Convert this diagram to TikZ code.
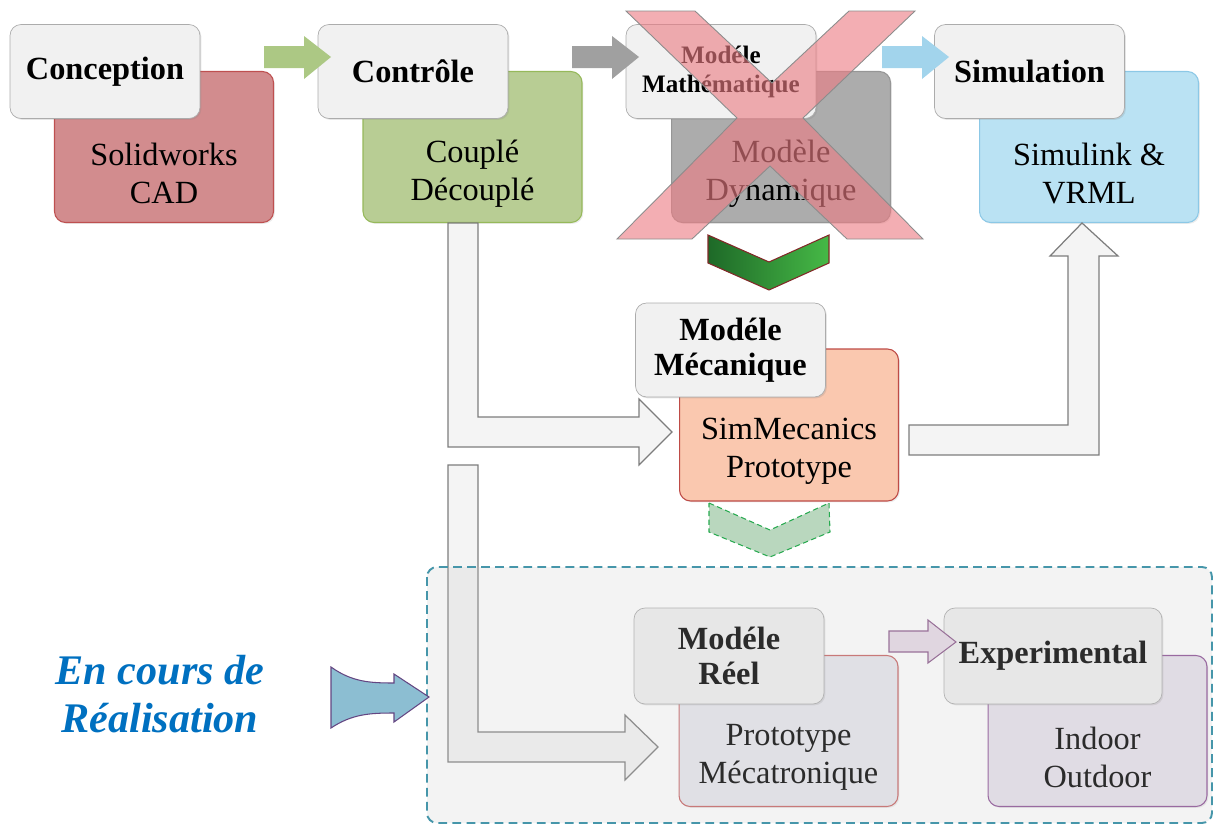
\documentclass[tikz,border=0pt]{standalone}
\usepackage{fontspec}
\setmainfont{Liberation Serif}
\usetikzlibrary{shadows}

\definecolor{hdrfill}{RGB}{241,241,241}
\definecolor{hdrline}{RGB}{172,172,172}
\definecolor{cadfill}{RGB}{210,140,142}
\definecolor{cadline}{RGB}{190,80,80}
\definecolor{ctrlfill}{RGB}{184,205,148}
\definecolor{ctrlline}{RGB}{150,185,90}
\definecolor{dynfill}{RGB}{172,172,172}
\definecolor{dynline}{RGB}{150,150,150}
\definecolor{simfill}{RGB}{186,226,243}
\definecolor{simline}{RGB}{140,200,230}
\definecolor{mecafill}{RGB}{250,200,175}
\definecolor{mecaline}{RGB}{190,75,70}
\definecolor{reelfill}{RGB}{232,232,238}
\definecolor{reelline}{RGB}{200,100,100}
\definecolor{expfill}{RGB}{232,226,236}
\definecolor{expline}{RGB}{140,80,150}
\definecolor{crossfill}{RGB}{236,125,132}
\definecolor{crossline}{RGB}{140,140,140}
\definecolor{bigline}{RGB}{125,125,125}
\definecolor{bigfill}{RGB}{244,244,244}
\definecolor{regionline}{RGB}{70,150,170}
\definecolor{regionfill}{RGB}{200,200,200}
\definecolor{encours}{RGB}{0,112,192}
\definecolor{swooshfill}{RGB}{140,190,210}
\definecolor{swooshline}{RGB}{100,70,130}
\definecolor{purpfill}{RGB}{232,218,232}
\definecolor{purpline}{RGB}{140,90,140}
\definecolor{chevdark}{RGB}{30,105,40}
\definecolor{chevlight}{RGB}{70,185,70}
\definecolor{chevline}{RGB}{130,40,40}
\definecolor{dchevfill}{RGB}{185,215,190}
\definecolor{dchevline}{RGB}{40,170,80}
\definecolor{greenarr}{RGB}{172,200,132}
\definecolor{grayarr}{RGB}{160,160,160}
\definecolor{bluearr}{RGB}{162,212,236}

\begin{document}
\begin{tikzpicture}[
  x=0.02cm, y=-0.02cm,
  hdr/.style={rectangle, draw=hdrline, fill=hdrfill, rounded corners=2.2mm, minimum width=3.8cm, minimum height=1.88cm, align=center, font=\bfseries\fontsize{18.4}{20}\selectfont, drop shadow={shadow xshift=0.8pt, shadow yshift=-0.8pt, opacity=0.2}},
  body/.style={rectangle, rounded corners=2.2mm, minimum width=4.38cm, minimum height=3.02cm, line width=0.6pt, drop shadow={shadow xshift=0.8pt, shadow yshift=-0.8pt, opacity=0.15}},
  btext/.style={align=center, font=\fontsize{18.4}{21.5}\selectfont},
  flatarrow/.style={line width=0.3pt},
  bigarrow/.style={draw=bigline, fill=bigfill, line width=0.7pt},
  chevron/.style={line width=0.6pt}
]
  \useasboundingbox (0,0) rectangle (1214,825);

  % top row
  \node[body, draw=cadline, fill=cadfill] (bCAD) at (164,147) {};
  \node[hdr] (hConc) at (105,71.5) {Conception};
  \node[btext] (tCAD) at ([yshift=-5.3mm]bCAD.center) {Solidworks\\CAD};

  \node[body, draw=ctrlline, fill=ctrlfill] (bCtrl) at (472.5,147) {};
  \node[hdr] (hCtrl) at (413,71.5) {Contrôle};
  \node[btext] (tCtrl) at ([yshift=-5.3mm]bCtrl.center) {Couplé\\Découplé};

  \node[body, draw=dynline, fill=dynfill] (bDyn) at (781,147) {};
  \node[hdr, font=\bfseries\fontsize{14.3}{16.5}\selectfont] (hMath) at (721,71.5) {Modéle\\Mathématique};
  \node[btext] (tDyn) at ([yshift=-5.3mm]bDyn.center) {Modèle\\Dynamique};

  \node[body, draw=simline, fill=simfill] (bSim) at (1089,147) {};
  \node[hdr] (hSim) at (1029.5,71.5) {Simulation};
  \node[btext] (tSim) at ([yshift=-5.3mm]bSim.center) {Simulink \&\\VRML};

  \fill[greenarr] (264,46) -- (304,46) -- (304,36) -- (331,57) -- (304,79) -- (304,68) -- (264,68) -- cycle;
  \fill[grayarr] (572,46) -- (612,46) -- (612,36) -- (639,57) -- (612,79) -- (612,68) -- (572,68) -- cycle;
  \fill[bluearr] (882,46) -- (922,46) -- (922,36) -- (949,57) -- (922,79) -- (922,68) -- (882,68) -- cycle;

  % crossed out
  \draw[draw=crossline, fill=crossfill, fill opacity=0.62, line width=0.5pt]
    (626,11) -- (695,11) -- (772,83) -- (849,11) -- (915,11) -- (803,118) -- (923,239)
    -- (847,239) -- (770,166) -- (692,239) -- (617,239) -- (737,118) -- cycle;

  \draw[chevron, draw=chevline, left color=chevdark, right color=chevlight]
    (708,235) -- (769,262) -- (829,235) -- (829,263) -- (769,290) -- (708,263) -- cycle;

  % middle row
  \draw[bigarrow] (448,223) -- (478,223) -- (478,417) -- (639,417) -- (639,399) -- (672,432)
    -- (639,465) -- (639,447) -- (448,447) -- cycle;
  \node[body, draw=mecaline, fill=mecafill, minimum height=3.04cm] (bMeca) at (789,425) {};
  \node[hdr] (hMeca) at (730.5,350) {Modéle\\Mécanique};
  \node[btext] (tMeca) at ([yshift=-5.3mm]bMeca.center) {SimMecanics\\Prototype};

  \draw[bigarrow] (909,425) -- (1068,425) -- (1068,256) -- (1050,256) -- (1082,223) -- (1118,256)
    -- (1099,256) -- (1099,455) -- (909,455) -- cycle;

  \draw[chevron, draw=dchevline, fill=dchevfill, dash pattern=on 3pt off 2pt]
    (709,503) -- (770,530) -- (829,503) -- (830,532) -- (770,557) -- (709,532) -- cycle;

  % bottom row
  \draw[bigarrow] (448,465) -- (478,465) -- (478,732) -- (625,732) -- (625,715) -- (658,747)
    -- (625,780) -- (625,762) -- (448,762) -- cycle;
  \node[body, draw=reelline, fill=reelfill] (bReel) at (788.5,731) {};
  \node[hdr, minimum height=1.92cm] (hReel) at (729,656) {Modéle\\Réel};
  \node[btext] (tReel) at ([yshift=-5.3mm]bReel.center) {Prototype\\Mécatronique};

  \node[body, draw=expline, fill=expfill] (bExp) at (1097.5,731) {};
  \node[hdr, minimum width=4.36cm, minimum height=1.92cm] (hExp) at (1053,656) {Experimental};
  \node[btext] (tExp) at ([yshift=-5.3mm]bExp.center) {Indoor\\Outdoor};

  \draw[flatarrow, draw=purpline, fill=purpfill, line width=0.6pt]
    (889,631) -- (928,631) -- (928,620) -- (956,642) -- (928,663) -- (928,652) -- (889,652) -- cycle;

  \draw[draw=regionline, line width=1.1pt, dash pattern=on 5pt off 3pt, fill=regionfill, fill opacity=0.22, rounded corners=2mm]
    (427,567) rectangle (1212,823);

  \node[font=\bfseries\itshape\fontsize{24}{27.3}\selectfont, text=encours, align=center] (enc) at (160,694) {En cours de\\Réalisation};

  \draw[draw=swooshline, fill=swooshfill, line width=0.6pt]
    (331,667) .. controls (352,682) and (370,683) .. (394,683) -- (394,674) -- (429,697) -- (394,722)
    -- (394,713) .. controls (370,713) and (352,714) .. (331,728) -- cycle;
\end{tikzpicture}
\end{document}
